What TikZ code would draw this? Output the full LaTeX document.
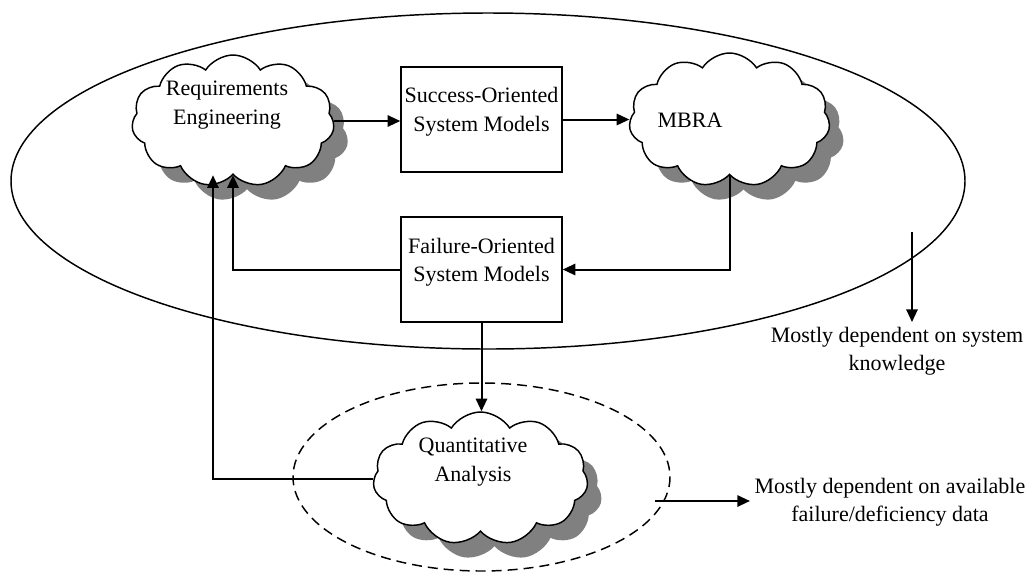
\documentclass[tikz,border=0pt]{standalone}
\usepackage{fontspec}
\setmainfont{Liberation Serif}
\usetikzlibrary{shapes.symbols, shadows, arrows.meta, positioning}

\begin{document}
\begin{tikzpicture}[x=0.75pt,y=0.75pt,yscale=-1,xscale=1,
  every node/.style={font=\fontsize{16.5}{21.4}\selectfont, align=center},
  puff/.style={cloud, cloud puffs=11, cloud puff arc=115, cloud ignores aspect, draw, line width=1.1pt, fill=white, inner sep=0pt,
    drop shadow={shadow xshift=10.5pt, shadow yshift=-11.25pt, fill=gray, opacity=1}},
  sysbox/.style={draw, line width=1.1pt, minimum width=120.75pt, minimum height=78.75pt, inner sep=0pt},
  link/.style={line width=1.5pt, -{Triangle[length=9.5pt,width=8.5pt]}}
]
\useasboundingbox (0,0) rectangle (1035,576);

%Shape: Ellipse
\draw [line width=1.1pt] (488,181) ellipse [x radius=477, y radius=168];
%Shape: Ellipse (dashed)
\draw [line width=1.1pt, dash pattern={on 7.5pt off 4.5pt}] (481.5,477) ellipse [x radius=188.5, y radius=94];

%Shape: Cloud
\node [puff, minimum width=152pt, minimum height=99pt] (req) at (233,121) {};
\node [puff, minimum width=150.75pt, minimum height=100.5pt] (mbra) at (729.5,120) {};
\node [puff, minimum width=161.25pt, minimum height=99.75pt] (qa) at (480.5,478.5) {};

%Shape: Rectangle
\node [sysbox] (som) at (481.5,119.5) {};
\node [sysbox] (fom) at (481.5,269.5) {};

%Text
\node (reqtxt) at (227,105) {Requirements\\Engineering};
\node (mbratxt) at (690,120) {MBRA};
\node (qatxt) at (473,462) {Quantitative\\Analysis};
\node (somtxt) at (481.5,112) {Success-Oriented\\System Models};
\node (fomtxt) at (481.5,262) {Failure-Oriented\\System Models};
\node (sysknow) at (897,351) {Mostly dependent on system\\knowledge};
\node (faildata) at (890,502) {Mostly dependent on available\\failure/deficiency data};

%Straight Lines
\draw [link] (req.east) -- (req.east -| som.west);
\draw [link] (som.east) -- (som.east -| mbra.west);
\draw [link] (mbra.south) |- (fom.east);
\draw [link] (fom.west) -| (req.south);
\coordinate (reqin) at ([xshift=-15pt]req.south);
\draw [link] (qa.west) -| (reqin);
\draw [link] (fom.south) -- (fom.south |- qa.north);

%Straight Lines
\coordinate (ktail) at (912,232);
\draw [link] (ktail) -- (ktail |- sysknow.north);
\coordinate (dtail) at (655,501);
\draw [link] (dtail) -- (dtail -| faildata.west);

\end{tikzpicture}
\end{document}
